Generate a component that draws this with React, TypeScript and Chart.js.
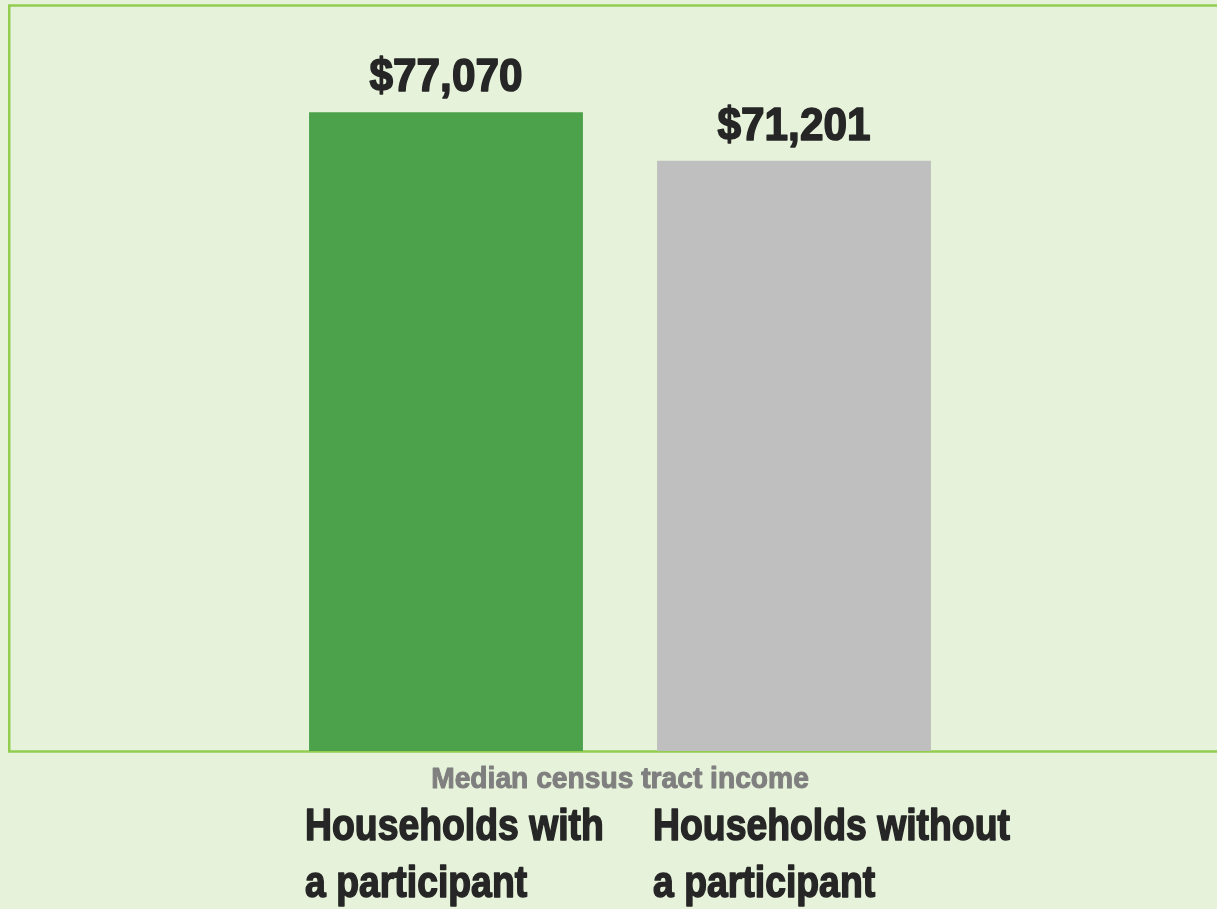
import React, { useEffect, useRef } from "react";
import { Chart, registerables } from "chart.js";

Chart.register(...registerables);

const categories: string[][] = [
  ["Households with", "a participant"],
  ["Households without", "a participant"],
];
const values: number[] = [77070, 71201];
const barColors: string[] = ["#4BA24A", "#BFBFBF"];
const axisTitle = "Median census tract income";
const yMin = 0;
const yMax = 90000;

const BG = "#E6F3DA";
const BORDER = "#92CD50";
const TEXT = "#262626";
const TITLE = "#7F7F7F";
const FONT = "'Liberation Sans', Arial, sans-serif";

function drawText(
  ctx: CanvasRenderingContext2D,
  text: string,
  x: number,
  y: number,
  align: CanvasTextAlign,
  size: number,
  sx: number,
  color: string,
  heavy: number
) {
  ctx.save();
  ctx.translate(x, y);
  ctx.scale(sx, 1);
  ctx.font = `bold ${size}px ${FONT}`;
  ctx.fillStyle = color;
  ctx.strokeStyle = color;
  ctx.lineWidth = heavy;
  ctx.lineJoin = "round";
  ctx.textAlign = align;
  ctx.textBaseline = "alphabetic";
  ctx.fillText(text, 0, 0);
  if (heavy > 0) ctx.strokeText(text, 0, 0);
  ctx.restore();
}

const fmt = (v: number) => "$" + v.toLocaleString("en-US");

const framePlugin = {
  id: "frame",
  beforeDatasetsDraw(chart: any) {
    const ctx = chart.ctx as CanvasRenderingContext2D;
    const { top, bottom } = chart.chartArea;
    ctx.save();
    ctx.strokeStyle = BORDER;
    ctx.lineWidth = 2.5;
    ctx.strokeRect(9.25, top + 0.5, chart.width + 20, bottom - top);
    ctx.restore();
  },
  afterDatasetsDraw(chart: any) {
    const ctx = chart.ctx as CanvasRenderingContext2D;
    const meta = chart.getDatasetMeta(0);
    const area = chart.chartArea;
    meta.data.forEach((bar: any, i: number) => {
      drawText(ctx, fmt(values[i]), bar.x, bar.y - 21, "center", 46, 0.92, TEXT, 1.6);
      const left = bar.x - bar.width / 2 - 4;
      categories[i].forEach((line, j) => {
        drawText(ctx, line, left, area.bottom + 89 + j * 57, "left", 45, 0.83, TEXT, 1.6);
      });
    });
    drawText(ctx, axisTitle, (area.left + area.right) / 2, area.bottom + 37, "center", 30, 0.94, TITLE, 1);
  },
};

export default function App() {
  const ref = useRef<HTMLCanvasElement | null>(null);
  useEffect(() => {
    if (!ref.current) return;
    const chart = new Chart(ref.current, {
      type: "bar",
      data: {
        labels: categories,
        datasets: [
          {
            data: values,
            backgroundColor: barColors,
            borderWidth: 0,
            barPercentage: 0.787,
            categoryPercentage: 1,
          },
        ],
      },
      options: {
        animation: false,
        responsive: false,
        layout: { padding: { left: 272, right: 249, top: 5, bottom: 158 } },
        plugins: { legend: { display: false }, tooltip: { enabled: false } },
        scales: {
          x: { display: false, grid: { display: false } },
          y: { display: false, min: yMin, max: yMax, grid: { display: false } },
        },
      },
      plugins: [framePlugin],
    });
    return () => chart.destroy();
  }, []);
  return (
    <div
      style={{
        position: "fixed",
        left: 0,
        top: 0,
        width: 1217,
        height: 909,
        background: BG,
        overflow: "hidden",
      }}
    >
      <canvas ref={ref} width={1217} height={909} style={{ display: "block" }} />
    </div>
  );
}
